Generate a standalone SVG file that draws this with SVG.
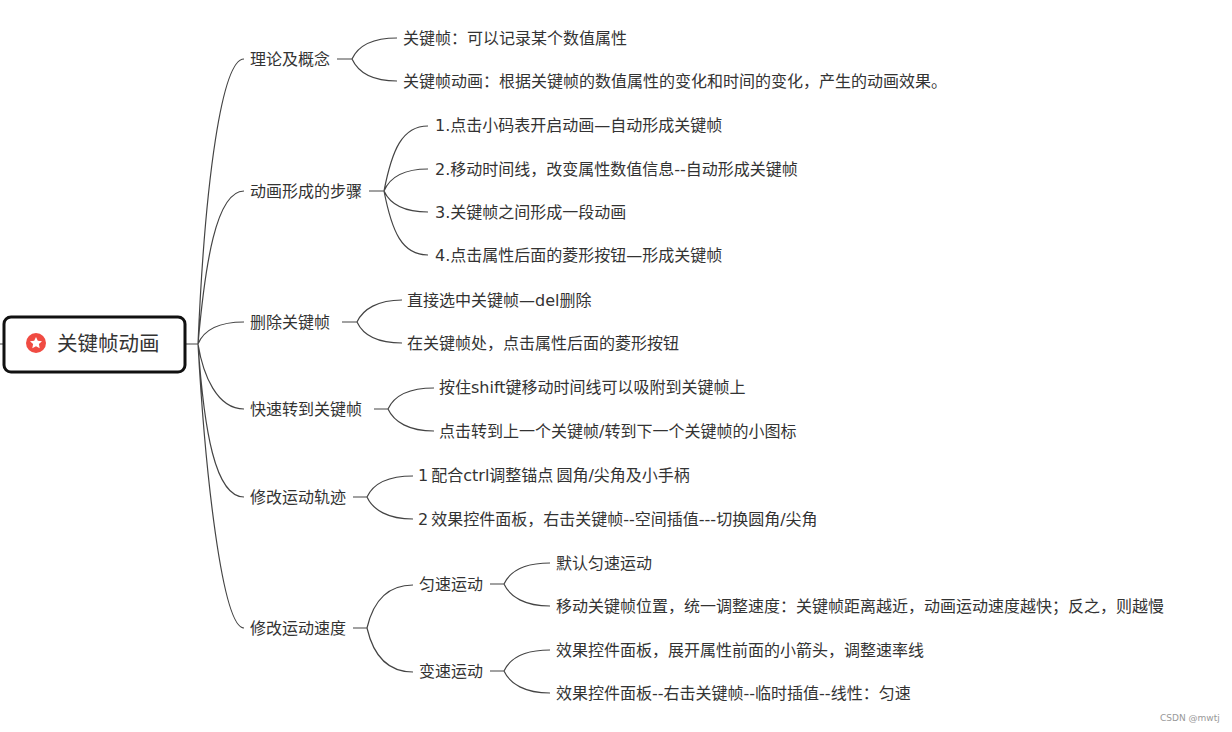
<svg xmlns="http://www.w3.org/2000/svg" width="1232" height="732" viewBox="0 0 1232 732">
<style>
text{font-family:"DejaVu Sans","Noto Sans CJK SC",sans-serif;font-size:16px;fill:#333}
.c path{fill:none;stroke:#444;stroke-width:1.2}
.tight{word-spacing:-2px}
</style>
<rect width="1232" height="732" fill="#fff"/>
<g class="c" id="connectors">
<path d="M185 344H198C205 180 222 59 244 59M198 344C205 265 216 191 244 191M198 344C203 332 216 322 244 322M198 344C203 375 217 409 244 409M198 344C204 430 215 497 244 497M198 344C205 470 222 628 244 628M0 344H4"/>
<path d="M337 59H352C358 46 372 38 397 38M352 59C358 72 372 81 397 81"/>
<path d="M369 191H384C392 150 402 126 428 126M384 191C390 177 405 169 428 169M384 191C390 204 405 212 428 212M384 191C392 232 402 255 428 255"/>
<path d="M342 322H357C363 309 378 300 402 300M357 322C363 335 378 343 402 343"/>
<path d="M374 409H388C394 396 409 388 434 388M388 409C394 422 409 431 434 431"/>
<path d="M353 497H367C373 484 388 476 413 476M367 497C373 510 388 519 413 519"/>
<path d="M353 628H367C373 602 386 585 413 585M367 628C373 654 386 672 413 672"/>
<path d="M490 584H504C510 571 525 563 550 563M504 584C510 597 525 606 550 606"/>
<path d="M490 671H504C510 658 525 650 550 650M504 671C510 684 525 693 550 693"/>
</g>
<g id="root"><rect x="4" y="317" width="181" height="55" rx="7" fill="#fff" stroke="#111" stroke-width="3"/><circle cx="36" cy="343" r="10" fill="#f04b42"/><path d="M36 337l1.8 3.8 4.2.5-3.1 2.8.8 4.1-3.7-2-3.7 2 .8-4.1-3.1-2.8 4.2-.5z" fill="#fff"/><text x="57" y="351" style="font-size:20.5px">关键帧动画</text></g>
<g id="n1"><text x="250" y="65">理论及概念</text></g>
<g id="n2"><text x="403" y="44">关键帧：可以记录某个数值属性</text></g>
<g id="n3"><text x="403" y="87">关键帧动画：根据关键帧的数值属性的变化和时间的变化，产生的动画效果。</text></g>
<g id="n4"><text x="250" y="197">动画形成的步骤</text></g>
<g id="n5"><text x="435" y="131">1.点击小码表开启动画—自动形成关键帧</text></g>
<g id="n6"><text x="435" y="175">2.移动时间线，改变属性数值信息--自动形成关键帧</text></g>
<g id="n7"><text x="435" y="218">3.关键帧之间形成一段动画</text></g>
<g id="n8"><text x="435" y="261">4.点击属性后面的菱形按钮—形成关键帧</text></g>
<g id="n9"><text x="250" y="328">删除关键帧</text></g>
<g id="n10"><text x="407" y="306">直接选中关键帧—del删除</text></g>
<g id="n11"><text x="407" y="349">在关键帧处，点击属性后面的菱形按钮</text></g>
<g id="n12"><text x="250" y="415">快速转到关键帧</text></g>
<g id="n13"><text x="439" y="393">按住shift键移动时间线可以吸附到关键帧上</text></g>
<g id="n14"><text x="439" y="437">点击转到上一个关键帧/转到下一个关键帧的小图标</text></g>
<g id="n15"><text x="250" y="503">修改运动轨迹</text></g>
<g id="n16"><text class="tight" x="418" y="481">1 配合ctrl调整锚点 圆角/尖角及小手柄</text></g>
<g id="n17"><text class="tight" x="418" y="525">2 效果控件面板，右击关键帧--空间插值---切换圆角/尖角</text></g>
<g id="n18"><text x="250" y="634">修改运动速度</text></g>
<g id="n19"><text x="419" y="590">匀速运动</text></g>
<g id="n20"><text x="419" y="677">变速运动</text></g>
<g id="n21"><text x="556" y="569">默认匀速运动</text></g>
<g id="n22"><text x="556" y="612">移动关键帧位置，统一调整速度：关键帧距离越近，动画运动速度越快；反之，则越慢</text></g>
<g id="n23"><text x="556" y="656">效果控件面板，展开属性前面的小箭头，调整速率线</text></g>
<g id="n24"><text x="556" y="699">效果控件面板--右击关键帧--临时插值--线性：匀速</text></g>
<text x="1160" y="721" style="font-size:9px;fill:#999">CSDN @mwtj</text>
</svg>
